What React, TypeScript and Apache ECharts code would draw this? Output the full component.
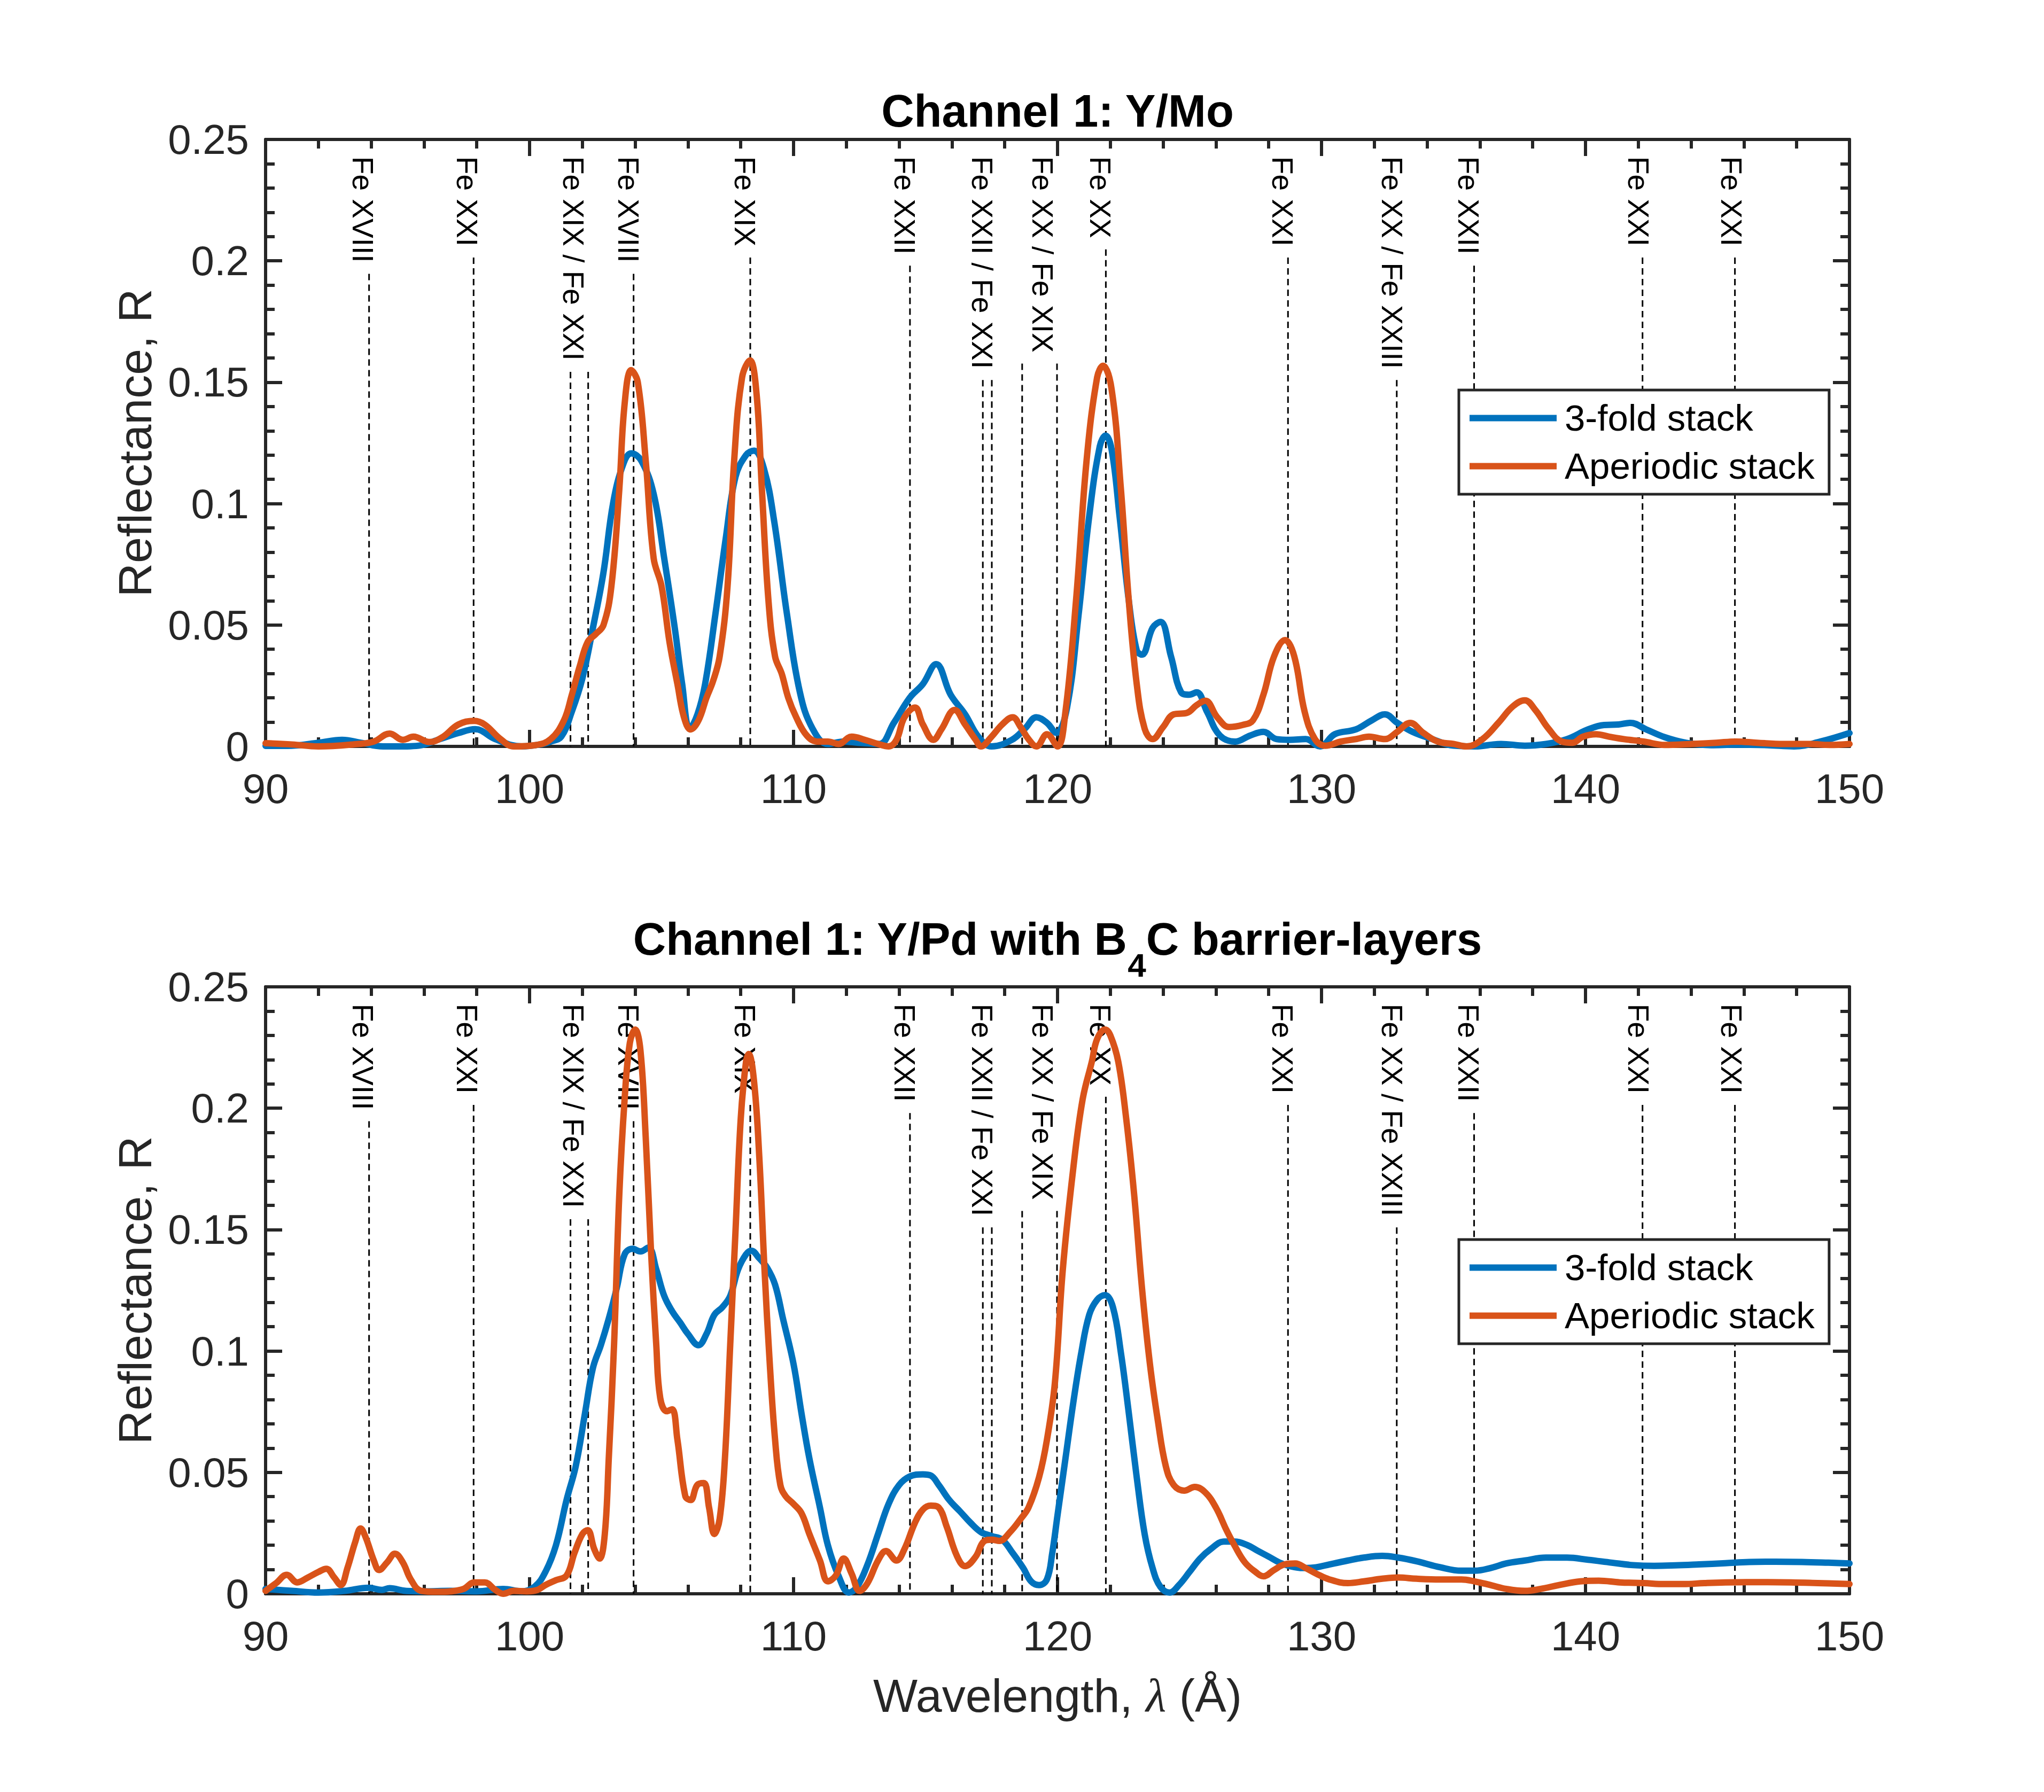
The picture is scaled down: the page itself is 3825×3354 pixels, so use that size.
import React, { useEffect, useRef } from "react";
import * as echarts from "echarts";

// ---------- data ----------
// Channel 1: Y/Mo
const ymoThreeFold: number[][] = [
  [90, 0.0002], [91, 0.0003], [92, 0.0015], [92.9, 0.0027], [93.6, 0.0015], [94.45, 0], [95.2, 0], [95.8, 0.0003],
  [96.6, 0.003], [97.3, 0.0055], [97.94, 0.0071], [98.7, 0.003], [99.7, 0], [100.4, 0.0008], [100.8, 0.002], [101.2, 0.004],
  [101.6, 0.0143], [102.0, 0.028], [102.4, 0.0488], [102.8, 0.0717], [103.17, 0.1005], [103.56, 0.1166], [103.85, 0.1207],
  [104.23, 0.1177], [104.7, 0.104], [105.1, 0.0775], [105.5, 0.0488], [105.78, 0.0257], [106.07, 0.0073], [106.36, 0.0132],
  [106.65, 0.0257], [107.04, 0.0545], [107.43, 0.0855], [107.8, 0.111], [108.2, 0.12], [108.5, 0.1218], [108.88, 0.1143],
  [109.27, 0.0925], [109.75, 0.0545], [110.24, 0.0223], [110.72, 0.0073], [111.3, 0.001], [111.88, 0.002], [112.46, 0.0015],
  [113.24, 0.001], [113.8, 0.0097], [114.4, 0.02], [114.9, 0.0257], [115.4, 0.0339], [115.95, 0.0213], [116.5, 0.0132],
  [117.0, 0.004], [117.5, 0], [118.27, 0.0027], [118.76, 0.0073], [119.2, 0.012], [119.6, 0.0097], [119.95, 0.0056],
  [120.36, 0.016], [120.8, 0.0545], [121.2, 0.0948], [121.6, 0.1236], [121.82, 0.128], [122.05, 0.1222], [122.35, 0.0948],
  [122.7, 0.06], [123.0, 0.0395], [123.2, 0.0378], [123.6, 0.0488], [123.9, 0.0513], [124.3, 0.037], [124.68, 0.0223],
  [124.98, 0.0213], [125.27, 0.0223], [125.66, 0.0143], [126.15, 0.0045], [126.73, 0.002], [127.3, 0.0045], [127.8, 0.006],
  [128.3, 0.003], [128.8, 0.0027], [129.4, 0.003], [129.95, 0], [130.5, 0.005], [131.3, 0.007], [131.9, 0.0107],
  [132.4, 0.0132], [132.87, 0.0097], [133.45, 0.006], [134.2, 0.003], [135.0, 0.0003], [135.8, 0], [136.8, 0.001],
  [137.7, 0.0003], [138.5, 0.001], [139.3, 0.003], [140.1, 0.007], [140.7, 0.0088], [141.25, 0.009], [141.7, 0.0097],
  [142.3, 0.007], [143.0, 0.0038], [143.8, 0.0015], [144.75, 0.0005], [145.7, 0.0007], [146.9, 0.0005], [147.9, 0],
  [148.9, 0.002], [150, 0.0055],
];
const ymoAperiodic: number[][] = [
  [90, 0.0013], [91, 0.0008], [92.0, 0], [93.5, 0.001], [94.1, 0.002], [94.7, 0.0053], [95.2, 0.0027], [95.6, 0.004],
  [96.2, 0.0018], [96.7, 0.0038], [97.3, 0.009], [97.9, 0.0105], [98.3, 0.009], [98.9, 0.003], [99.4, 0], [100.2, 0.0005],
  [100.8, 0.003], [101.3, 0.0107], [101.6, 0.0212], [101.9, 0.033], [102.2, 0.043], [102.5, 0.0462], [102.8, 0.05],
  [103.1, 0.066], [103.4, 0.106], [103.6, 0.141], [103.85, 0.155], [104.1, 0.15], [104.4, 0.1177], [104.7, 0.0775],
  [105.0, 0.066], [105.3, 0.043], [105.6, 0.0257], [105.85, 0.012], [106.1, 0.007], [106.4, 0.0107], [106.7, 0.02],
  [106.95, 0.0269], [107.2, 0.037], [107.5, 0.066], [107.75, 0.1177], [108.05, 0.152], [108.35, 0.159], [108.6, 0.145],
  [108.8, 0.106], [109.05, 0.06], [109.3, 0.037], [109.55, 0.03], [109.8, 0.02], [110.1, 0.012], [110.5, 0.0045],
  [110.9, 0.002], [111.3, 0.002], [111.7, 0.001], [112.2, 0.004], [112.7, 0.0027], [113.2, 0.001], [113.6, 0],
  [113.9, 0.0027], [114.2, 0.012], [114.6, 0.016], [114.9, 0.009], [115.3, 0.0027], [115.6, 0.007], [116.1, 0.015],
  [116.5, 0.009], [116.9, 0.0027], [117.1, 0], [117.5, 0.004], [117.9, 0.009], [118.3, 0.012], [118.6, 0.008],
  [118.9, 0.003], [119.2, 0], [119.6, 0.005], [120.0, 0], [120.3, 0.0143], [120.7, 0.06], [121.1, 0.1177], [121.5, 0.152],
  [121.72, 0.1568], [122.05, 0.147], [122.4, 0.106], [122.7, 0.06], [123.0, 0.0257], [123.3, 0.0073], [123.6, 0.003],
  [124.0, 0.008], [124.4, 0.0132], [124.9, 0.0138], [125.27, 0.017], [125.6, 0.0188], [126.05, 0.012], [126.5, 0.008],
  [127.0, 0.0088], [127.4, 0.0107], [127.8, 0.0213], [128.2, 0.037], [128.62, 0.0438], [128.97, 0.037], [129.36, 0.0143],
  [129.75, 0.003], [130.14, 0.0003], [130.73, 0.002], [131.3, 0.003], [131.8, 0.004], [132.4, 0.003], [132.87, 0.006],
  [133.36, 0.0097], [133.85, 0.0056], [134.4, 0.002], [135.0, 0.001], [135.5, 0], [136.1, 0.003], [136.7, 0.0097],
  [137.25, 0.0165], [137.7, 0.019], [138.1, 0.015], [138.6, 0.0073], [139.1, 0.002], [139.5, 0.0015], [139.9, 0.004],
  [140.4, 0.005], [140.9, 0.004], [141.45, 0.003], [142.2, 0.002], [143.0, 0.0006], [144.0, 0.001], [144.95, 0.0015],
  [145.7, 0.002], [146.5, 0.0015], [147.5, 0.001], [148.5, 0.001], [149.25, 0.0006], [150, 0.001],
];
// Channel 1: Y/Pd with B4C barrier-layers
const ypdThreeFold: number[][] = [
  [90, 0.002], [91, 0.0012], [92, 0.0005], [93, 0.0012], [93.9, 0.0025], [94.4, 0.0016], [94.7, 0.0023], [95.3, 0.0012],
  [96, 0.001], [97, 0.0012], [98, 0.001], [99, 0.002], [99.7, 0.001], [100.2, 0.003], [100.6, 0.009], [101.0, 0.02],
  [101.4, 0.0386], [101.75, 0.0526], [102.1, 0.0744], [102.4, 0.093], [102.7, 0.1024], [103.0, 0.1133], [103.3, 0.1258],
  [103.6, 0.1398], [103.9, 0.1421], [104.2, 0.141], [104.5, 0.1426], [104.8, 0.1336], [105.1, 0.1227], [105.4, 0.1164],
  [105.7, 0.1118], [106.0, 0.107], [106.4, 0.1024], [106.7, 0.107], [107.0, 0.1149], [107.3, 0.118], [107.6, 0.1227],
  [107.9, 0.1336], [108.2, 0.1398], [108.4, 0.1413], [108.7, 0.1382], [109.0, 0.1343], [109.3, 0.1273], [109.6, 0.1133],
  [110.0, 0.0946], [110.3, 0.0744], [110.6, 0.0557], [111.0, 0.0355], [111.3, 0.02], [111.7, 0.0075], [112.1, 0.0005],
  [112.4, 0.0028], [112.8, 0.012], [113.2, 0.0246], [113.6, 0.037], [114.0, 0.0448], [114.4, 0.0483], [114.9, 0.0492],
  [115.2, 0.0487], [115.5, 0.0448], [115.9, 0.0386], [116.3, 0.034], [116.7, 0.0293], [117.1, 0.0254], [117.5, 0.0238],
  [117.9, 0.0223], [118.3, 0.0168], [118.7, 0.0106], [119.0, 0.0051], [119.3, 0.0036], [119.6, 0.006], [119.8, 0.0168],
  [120.0, 0.0324], [120.3, 0.0557], [120.6, 0.079], [120.9, 0.0993], [121.2, 0.1149], [121.5, 0.1211], [121.8, 0.123],
  [122.1, 0.118], [122.4, 0.0993], [122.7, 0.0744], [123.0, 0.048], [123.3, 0.0246], [123.6, 0.0106], [123.9, 0.0028],
  [124.25, 0.0005], [124.6, 0.0036], [125.0, 0.009], [125.4, 0.0145], [125.8, 0.0184], [126.3, 0.0215], [126.7, 0.0215],
  [127.2, 0.02], [127.6, 0.0176], [128.0, 0.0153], [128.4, 0.0129], [128.8, 0.0114], [129.3, 0.0106], [129.8, 0.0109],
  [130.3, 0.0121], [131.0, 0.0137], [131.6, 0.0149], [132.3, 0.0156], [132.9, 0.0149], [133.6, 0.0134], [134.5, 0.0109],
  [135.3, 0.0095], [135.8, 0.0095], [136.4, 0.0106], [137.0, 0.0125], [137.7, 0.0137], [138.5, 0.0149], [139.3, 0.0149],
  [140.1, 0.014], [141.0, 0.0128], [141.8, 0.0118], [142.6, 0.0115], [143.4, 0.0117], [144.3, 0.0121], [145.3, 0.0126],
  [146.2, 0.0131], [147.2, 0.0132], [148.2, 0.0131], [149.2, 0.0128], [150, 0.0125],
];
const ypdAperiodic: number[][] = [
  [90, 0.0012], [90.4, 0.0044], [90.8, 0.0078], [91.2, 0.0047], [91.6, 0.0067], [92.0, 0.009], [92.3, 0.0103],
  [92.6, 0.0067], [92.85, 0.0036], [93.1, 0.0106], [93.4, 0.0215], [93.6, 0.0269], [93.8, 0.023], [94.1, 0.0137],
  [94.3, 0.0098], [94.6, 0.0129], [94.9, 0.0165], [95.2, 0.0129], [95.5, 0.0059], [95.9, 0.0012], [96.5, 0.0008],
  [97.0, 0.001], [97.5, 0.002], [97.9, 0.0047], [98.3, 0.0047], [98.7, 0.0016], [99.0, 0], [99.4, 0.0012], [99.9, 0.001],
  [100.3, 0.0016], [100.6, 0.0036], [101.0, 0.0056], [101.4, 0.0075], [101.7, 0.0168], [102.0, 0.0246], [102.2, 0.0262],
  [102.45, 0.0184], [102.65, 0.0145], [102.85, 0.0246], [103.0, 0.0557], [103.2, 0.1024], [103.4, 0.1647], [103.6, 0.2036],
  [103.8, 0.227], [104.0, 0.2324], [104.2, 0.2238], [104.4, 0.188], [104.6, 0.1413], [104.8, 0.1024], [104.95, 0.0806],
  [105.2, 0.0752], [105.4, 0.076], [105.6, 0.0635], [105.9, 0.0402], [106.1, 0.0386], [106.35, 0.0448], [106.6, 0.0456],
  [106.8, 0.0355], [107.0, 0.0246], [107.2, 0.0308], [107.4, 0.0557], [107.6, 0.1024], [107.8, 0.1491], [108.0, 0.1958],
  [108.2, 0.2192], [108.3, 0.2223], [108.5, 0.2114], [108.7, 0.1803], [108.9, 0.1336], [109.1, 0.0946], [109.3, 0.0635],
  [109.5, 0.0448], [109.7, 0.0402], [110.0, 0.037], [110.3, 0.0332], [110.6, 0.0246], [111.0, 0.0137], [111.3, 0.0051],
  [111.6, 0.0075], [111.9, 0.0145], [112.2, 0.0083], [112.5, 0.0012], [112.8, 0.0044], [113.2, 0.0137], [113.5, 0.0176],
  [113.9, 0.0137], [114.2, 0.0184], [114.6, 0.0293], [114.9, 0.0347], [115.2, 0.0363], [115.5, 0.0355], [115.8, 0.0277],
  [116.2, 0.0153], [116.5, 0.0114], [116.9, 0.0153], [117.2, 0.0215], [117.5, 0.0223], [117.8, 0.0218], [118.2, 0.0254],
  [118.6, 0.0308], [118.9, 0.0355], [119.3, 0.048], [119.6, 0.0635], [119.9, 0.0869], [120.2, 0.1336], [120.6, 0.1756],
  [120.95, 0.2036], [121.3, 0.2192], [121.5, 0.2285], [121.8, 0.2324], [122.0, 0.23], [122.3, 0.2192], [122.6, 0.1958],
  [122.9, 0.1647], [123.2, 0.1258], [123.5, 0.0946], [123.8, 0.0713], [124.1, 0.0526], [124.4, 0.0448], [124.8, 0.0425],
  [125.2, 0.044], [125.6, 0.0417], [126.0, 0.0355], [126.4, 0.0262], [126.7, 0.02], [127.1, 0.0129], [127.5, 0.009],
  [127.8, 0.0072], [128.2, 0.0098], [128.6, 0.0121], [129.0, 0.0125], [129.4, 0.0106], [129.8, 0.0083], [130.3, 0.0059],
  [131.0, 0.0044], [131.6, 0.0051], [132.3, 0.0062], [132.9, 0.0067], [133.6, 0.0062], [134.5, 0.0059], [135.3, 0.0059],
  [135.8, 0.0051], [136.4, 0.0036], [137.0, 0.002], [137.7, 0.0012], [138.3, 0.002], [139.0, 0.0036], [139.8, 0.0051],
  [140.5, 0.0054], [141.3, 0.0047], [142.2, 0.0044], [143.0, 0.004], [143.7, 0.004], [144.5, 0.0044], [145.3, 0.0047],
  [146.1, 0.0048], [146.9, 0.0048], [147.8, 0.0047], [148.8, 0.0044], [150, 0.004],
];

// spectral line annotations
const lineLabels = [
  "Fe XVIII", "Fe XXI", "Fe XIX / Fe XXI", "Fe XVIII", "Fe XIX", "Fe XXII", "Fe XXII / Fe XXI",
  "Fe XX / Fe XIX", "Fe XX", "Fe XXI", "Fe XX / Fe XXIII", "Fe XXII", "Fe XXI", "Fe XXI",
];
const labelPositions = [93.68, 97.63, 101.67, 103.75, 108.16, 114.21, 117.15, 119.43, 121.61, 128.53, 132.68, 135.57, 142.01, 145.52];
const lineWavelengths = [
  [93.92], [97.88], [101.55, 102.22], [103.94], [108.36], [114.41], [117.17, 117.51],
  [118.66, 119.98], [121.83], [128.73], [132.85], [135.78], [142.16], [145.66],
];
const labelTop = 0.243;

const seriesNames = ["3-fold stack", "Aperiodic stack"];
const xTicks = { min: 90, max: 150, step: 10 };
const yTicks = { min: 0, max: 0.25, step: 0.05 };
const panelTitles = ["Channel 1: Y/Mo", "Channel 1: Y/Pd with B", "4", "C barrier-layers"];

// ---------- styling ----------
const FONT = '"Liberation Sans", Arial, Helvetica, sans-serif';
const AX = "#262626";
const BLUE = "#0072BD";
const ORANGE = "#D95319";
const W = 3825;
const H = 3354;
const GL = 497;
const GW = 2964;
const GH = 1136;
const GT = [261, 1847];
const CX = GL + GW / 2;
const LW = 12;

const measureCtx = typeof document !== "undefined" ? document.createElement("canvas").getContext("2d") : null;
function textWidth(t: string, font: string): number {
  if (!measureCtx) return t.length * 30;
  measureCtx.font = font;
  return measureCtx.measureText(t).width;
}

function axisCommon(show: boolean) {
  return {
    axisLine: { show: true, onZero: false, lineStyle: { color: AX, width: 6 } },
    axisTick: { show: true, inside: true, length: 31, lineStyle: { color: AX, width: 6 } },
    minorTick: { show: true, splitNumber: 5, length: 17, lineStyle: { color: AX, width: 6 } },
    splitLine: { show: false },
    minorSplitLine: { show: false },
    axisLabel: { show, fontSize: 78, color: AX, fontFamily: FONT },
  };
}

export default function App() {
  const ref = useRef<HTMLDivElement>(null);
  useEffect(() => {
    document.body.style.margin = "0";
    document.body.style.overflow = "hidden";
    if (!ref.current) return;
    const chart = echarts.init(ref.current, null, { renderer: "svg", width: W, height: H });

    const xAxes: any[] = [];
    const yAxes: any[] = [];
    [0, 1].forEach((g) => {
      const bx = axisCommon(true);
      xAxes.push({
        type: "value", gridIndex: g, position: "bottom", min: xTicks.min, max: xTicks.max, interval: xTicks.step,
        ...bx, axisLabel: { ...bx.axisLabel, margin: 40 },
      });
      xAxes.push({
        type: "value", gridIndex: g, position: "top", min: xTicks.min, max: xTicks.max, interval: xTicks.step,
        ...axisCommon(false),
      });
      const by = axisCommon(true);
      yAxes.push({
        type: "value", gridIndex: g, position: "left", min: yTicks.min, max: yTicks.max, interval: yTicks.step,
        ...by, axisLabel: { ...by.axisLabel, margin: 31 },
      });
      yAxes.push({
        type: "value", gridIndex: g, position: "right", min: yTicks.min, max: yTicks.max, interval: yTicks.step,
        ...axisCommon(false),
      });
    });

    const labelFont = 55;
    const annotData = labelPositions.map((x, i) => [x, labelTop, i]);
    const renderAnnot = (params: any, api: any) => {
      const i = api.value(2);
      const p = api.coord([api.value(0), api.value(1)]);
      const text = lineLabels[i];
      const w = textWidth(text, `${labelFont}px "Liberation Sans"`);
      const lineTop = p[1] + w + 21;
      const children: any[] = [
        {
          type: "text", x: p[0], y: p[1], rotation: -Math.PI / 2,
          style: { text, fontSize: labelFont, fontFamily: FONT, fill: "#000", align: "left", verticalAlign: "middle" },
        },
      ];
      lineWavelengths[i].forEach((lx) => {
        const b = api.coord([lx, 0]);
        children.push({
          type: "line",
          shape: { x1: b[0], y1: lineTop, x2: b[0], y2: b[1] },
          style: { stroke: "#000", lineWidth: 3, lineDash: [12, 8] },
        });
      });
      return { type: "group", children };
    };

    const datasets = [
      [ymoThreeFold, ymoAperiodic],
      [ypdThreeFold, ypdAperiodic],
    ];
    const series: any[] = [];
    [0, 1].forEach((g) => {
      series.push({
        type: "custom", xAxisIndex: g * 2, yAxisIndex: g * 2, data: annotData, renderItem: renderAnnot,
        encode: { x: 0, y: 1 }, silent: true, z: 1, clip: false,
      });
      datasets[g].forEach((d, k) => {
        const c = k === 0 ? BLUE : ORANGE;
        series.push({
          type: "line", name: seriesNames[k], xAxisIndex: g * 2, yAxisIndex: g * 2, data: d,
          symbol: "none", showSymbol: false, smooth: 0.4, clip: false,
          lineStyle: { color: c, width: LW, join: "round", cap: "round" }, itemStyle: { color: c }, z: 3 + k,
        });
      });
    });

    const legendBase = {
      orient: "vertical", left: 2730, data: seriesNames.map((n) => ({ name: n, icon: "rect" })),
      itemWidth: 163, itemHeight: LW, itemGap: 21,
      padding: [18, 27, 18, 20], backgroundColor: "#fff", borderColor: AX, borderWidth: 5, borderRadius: 0,
      textStyle: { fontSize: 69, color: "#000", fontFamily: FONT, padding: [0, 0, 0, 10], lineHeight: 68 },
      selectedMode: false, z: 10,
    };

    // title pieces
    const tFont = 85;
    const bold = `bold ${tFont}px "Liberation Sans"`;
    const w1 = textWidth(panelTitles[1], bold);
    const w4 = textWidth(panelTitles[2], `bold 62px "Liberation Sans"`);
    const w3 = textWidth(panelTitles[3], bold);
    const start = CX - (w1 + w4 + w3) / 2;
    const titleStyle = { fontSize: tFont, fontWeight: "bold", fontFamily: FONT, fill: "#000", verticalAlign: "middle" };
    const base2 = 1787;

    chart.setOption({
      animation: false,
      backgroundColor: "#fff",
      grid: GT.map((t) => ({ left: GL, top: t, width: GW, height: GH, containLabel: false })),
      xAxis: xAxes,
      yAxis: yAxes,
      legend: [
        { ...legendBase, top: 730 },
        { ...legendBase, top: 2320 },
      ],
      series,
      graphic: [
        { type: "text", x: CX, y: 237 - 0.3465 * tFont, style: { ...titleStyle, text: panelTitles[0], align: "center" } },
        { type: "text", x: start, y: base2 - 0.3465 * tFont, style: { ...titleStyle, text: panelTitles[1], align: "left" } },
        { type: "text", x: start + w1, y: base2 + 41 - 0.3465 * 62, style: { ...titleStyle, fontSize: 62, text: panelTitles[2], align: "left" } },
        { type: "text", x: start + w1 + w4, y: base2 - 0.3465 * tFont, style: { ...titleStyle, text: panelTitles[3], align: "left" } },
        ...GT.map((t) => ({
          type: "text", x: 252, y: t + GH / 2, rotation: Math.PI / 2,
          style: { text: "Reflectance, R", fontSize: 88, fontFamily: FONT, fill: AX, align: "center", verticalAlign: "middle" },
        })),
        {
          type: "text", x: CX, y: 3204 - 0.3465 * 88,
          style: {
            text: "Wavelength, {l|λ} (Å)", fontSize: 88, fontFamily: FONT, fill: AX, align: "center", verticalAlign: "middle",
            rich: { l: { fontSize: 88, fontFamily: '"Liberation Serif", "DejaVu Serif", serif', fontStyle: "italic", fill: AX, color: AX } },
          },
        },
      ],
    });
    return () => chart.dispose();
  }, []);
  return <div ref={ref} style={{ width: W, height: H }} />;
}
